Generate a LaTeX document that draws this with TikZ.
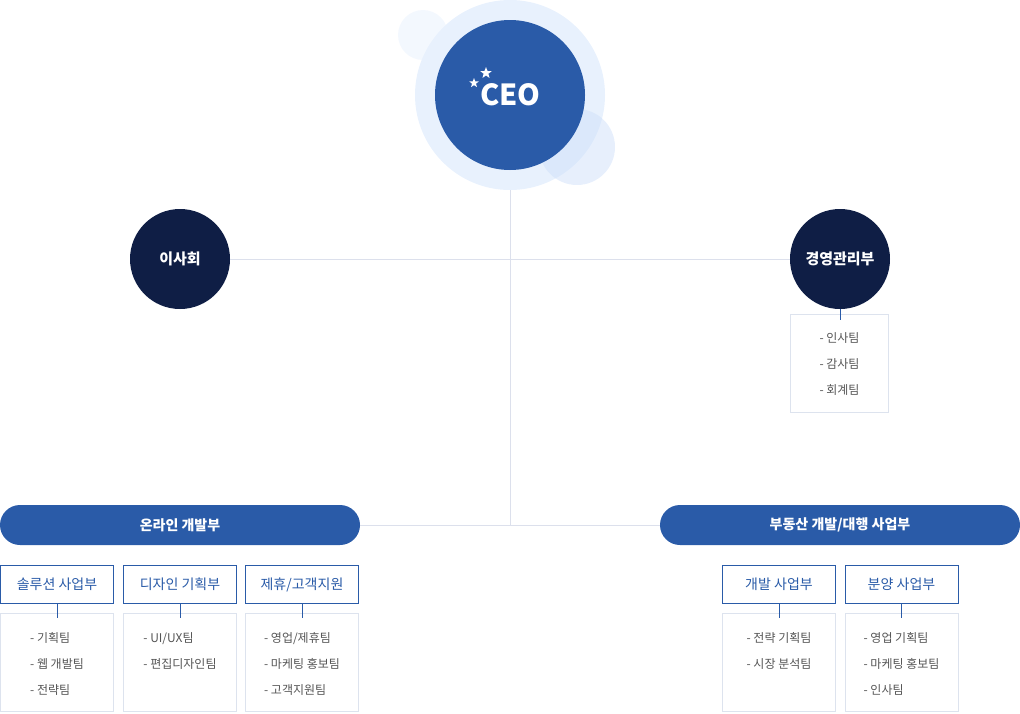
\documentclass[tikz,border=0pt]{standalone}
\usepackage{fontspec}
\setmainfont{Noto Sans CJK KR}
\usetikzlibrary{shapes.geometric}
\definecolor{ceoblue}{HTML}{2A5BA8}
\definecolor{navy}{HTML}{0F1E45}
\definecolor{halolight}{HTML}{E8F1FD}
\definecolor{bubble}{HTML}{CFE0FA}
\definecolor{linegray}{HTML}{DCE0EC}
\definecolor{boxgray}{HTML}{DDE3EE}
\definecolor{itemgray}{HTML}{555555}
\begin{document}
\begin{tikzpicture}[x=1pt,y=-1pt]
    \tikzstyle{halo}=[circle, inner sep=0pt]
    \tikzstyle{head}=[circle, fill=navy, text=white, minimum size=100pt, inner sep=0pt, font=\fontsize{15}{18}\selectfont\bfseries]
    \tikzstyle{pill}=[rectangle, rounded corners=20pt, fill=ceoblue, text=white, minimum width=360pt, minimum height=40pt, inner sep=0pt, font=\fontsize{14}{16}\selectfont\bfseries]
    \tikzstyle{dept}=[rectangle, draw=ceoblue, line width=1pt, fill=white, text=ceoblue, minimum width=113pt, minimum height=38pt, inner sep=0pt, font=\fontsize{14}{16}\selectfont]
    \tikzstyle{team}=[rectangle, draw=boxgray, line width=1pt, minimum width=113pt, minimum height=98pt, inner sep=0pt]
    \tikzstyle{items}=[anchor=north, align=left, inner sep=0pt, text=itemgray, font=\fontsize{12}{26}\selectfont]
    \tikzstyle{link}=[draw=linegray, line width=1pt]
    \tikzstyle{tick}=[draw=ceoblue, line width=1pt]
    \tikzstyle{twinkle}=[star, star points=5, star point ratio=2.4, fill=white, inner sep=0pt]
    \useasboundingbox (0,0) rectangle (1020,713);
    % CEO
    \fill[halolight, opacity=0.5] (423,35) circle (25);
    \node[halo, fill=halolight, minimum size=190pt] (ceo) at (510,95) {};
    \fill[bubble, opacity=0.5] (577,147) circle (38);
    \node[halo, fill=ceoblue, minimum size=150pt, text=white, font=\fontsize{29}{32}\selectfont\bfseries] (ceoin) at (510,95) {\kern1pt CEO};
    \node[twinkle, minimum size=12pt] (s1) at (486,73) {};
    \node[twinkle, minimum size=10pt] (s2) at (474,83) {};
    % heads
    \node[head] (board) at (180,259) {이사회};
    \node[head] (mgmt) at (840,259) {경영관리부};
    \node[team, minimum width=98pt] (mgmtt) at (839.5,363.5) {};
    \node[items] (mgmti) at (839.5,332) {- 인사팀\\- 감사팀\\- 회계팀};
    % divisions
    \node[pill] (online) at (180,525) {온라인 개발부};
    \node[pill] (estate) at (840,525) {부동산 개발/대행 사업부};
    \coordinate (hub) at (510,525);
    % lines
    \draw[link] (board.east) -- (mgmt.west);
    \draw[link] (ceo.south) -- (hub);
    \draw[link] (online.east) -- (estate.west);
    \draw[tick] (mgmt.south) -- ++(0,11);
    % online departments
    \node[dept] (sol) at (57,584.5) {솔루션 사업부};
    \node[dept] (des) at (180,584.5) {디자인 기획부};
    \node[dept] (sup) at (302,584.5) {제휴/고객지원};
    \node[team] (solt) at (57,662.5) {};
    \node[team] (dest) at (180,662.5) {};
    \node[team] (supt) at (302,662.5) {};
    \node[items] (soli) at (57,632) {- 기획팀\\- 웹 개발팀\\- 전략팀};
    \node[items] (desi) at (180,632) {- UI/UX팀\\- 편집디자인팀};
    \node[items] (supi) at (302,632) {- 영업/제휴팀\\- 마케팅 홍보팀\\- 고객지원팀};
    \draw[tick] (sol.south) -- ++(0,14);
    \draw[tick] (des.south) -- ++(0,14);
    \draw[tick] (sup.south) -- ++(0,14);
    % estate departments
    \node[dept] (dev) at (779,584.5) {개발 사업부};
    \node[dept] (sale) at (901.5,584.5) {분양 사업부};
    \node[team] (devt) at (779,662.5) {};
    \node[team] (salet) at (901.5,662.5) {};
    \node[items] (devi) at (779,632) {- 전략 기획팀\\- 시장 분석팀};
    \node[items] (salei) at (901.5,632) {- 영업 기획팀\\- 마케팅 홍보팀\\- 인사팀};
    \draw[tick] (dev.south) -- ++(0,14);
    \draw[tick] (sale.south) -- ++(0,14);
\end{tikzpicture}
\end{document}
